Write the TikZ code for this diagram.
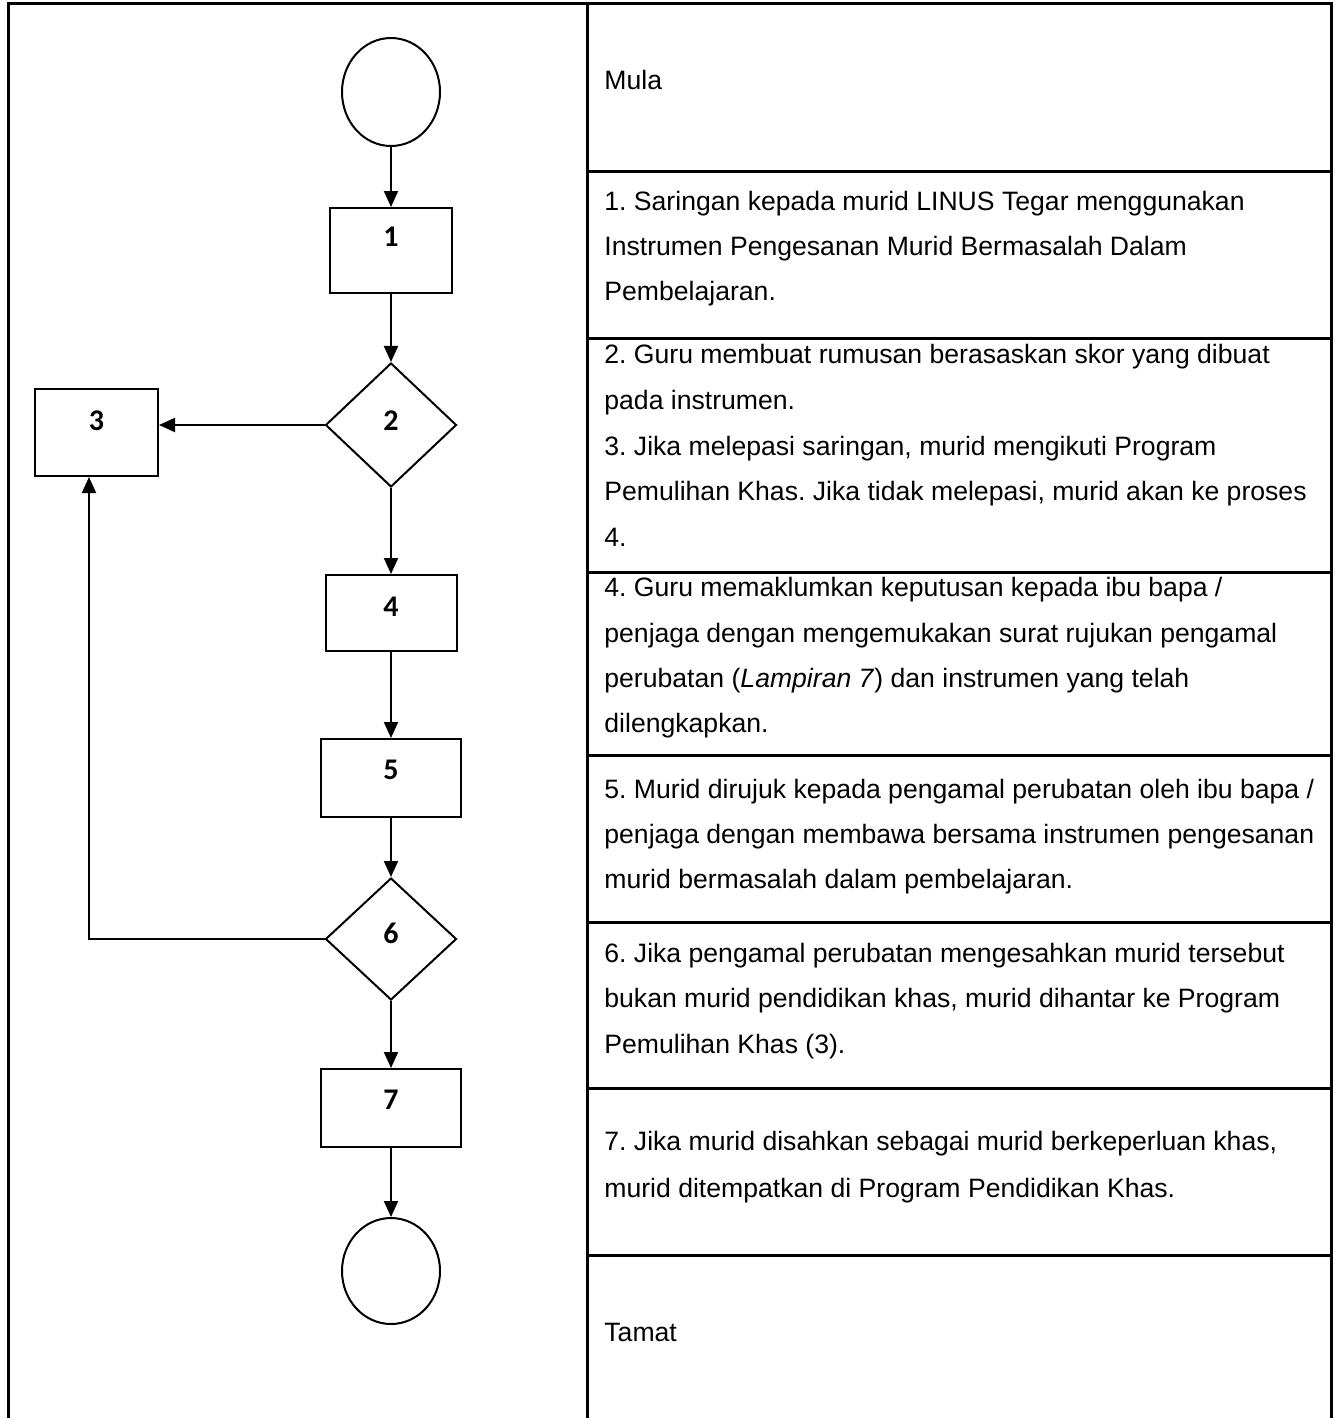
\documentclass[tikz,border=0pt]{standalone}
\usepackage{fontspec}
\setmainfont{Liberation Sans}
\newfontfamily\lblfont{Carlito}
\usetikzlibrary{arrows.meta,shapes.geometric}
\frenchspacing
\begin{document}
\begin{tikzpicture}[x=0.5pt,y=-0.5pt,
  tbl/.style={line width=1.5pt, line cap=rect},
  shp/.style={draw, line width=1pt, inner sep=0pt, font=\lblfont\bfseries\fontsize{15pt}{16pt}\selectfont},
  procbox/.style={shp, rectangle},
  decbox/.style={shp, diamond},
  termnode/.style={shp, ellipse},
  conn/.style={line width=1pt, -{Triangle[length=8pt,width=7pt]}},
  txt/.style={anchor=base west, inner sep=0pt, font=\fontsize{13.3pt}{16pt}\selectfont}]
\useasboundingbox (0,0) rectangle (1334,1418);
% table
\draw[tbl] (8,1418) -- (8,4) -- (1331,4) -- (1331,1418);
\draw[tbl] (587,4) -- (587,1418);
\foreach \yy in {171,338,572,755,922,1088,1255} \draw[tbl] (587,\yy) -- (1331,\yy);
% flowchart
\node[termnode, minimum width=49pt, minimum height=54pt] (s) at (391,92) {};
\node[procbox, minimum width=61pt, text height=19pt, text depth=23.5pt] (b1) at (391,250.5) {1};
\node[decbox, minimum width=65.5pt, minimum height=62pt, text height=10pt, text depth=5pt] (d2) at (391,425) {2};
\node[procbox, minimum width=61.5pt, text height=20.5pt, text depth=23pt] (b3) at (96.5,432.5) {3};
\node[procbox, minimum width=65.5pt, text height=20.5pt, text depth=17.5pt] (b4) at (391,613) {4};
\node[procbox, minimum width=70pt, text height=20pt, text depth=19pt] (b5) at (391,778) {5};
\node[decbox, minimum width=65.5pt, minimum height=61pt, text height=10pt, text depth=6pt] (d6) at (391,939) {6};
\node[procbox, minimum width=70pt, text height=20pt, text depth=19pt] (b7) at (391,1108) {7};
\node[termnode, minimum width=49pt, minimum height=53pt] (e) at (391,1271) {};
\coordinate (fb) at (89,941);
\draw[conn] (s) -- (b1);
\draw[conn] (b1) -- (d2);
\draw[conn] (d2.west) -- (d2.west -| b3.east);
\draw[conn] (d2) -- (b4);
\draw[conn] (b4) -- (b5);
\draw[conn] (b5) -- (d6);
\draw[conn] (d6.west) -- (d6.west -| fb) -- (fb |- b3.south);
\draw[conn] (d6) -- (b7);
\draw[conn] (b7) -- (e);
% texts
\node[txt] (t0) at (604,90) {Mula};
\node[txt] (t1a) at (604,210) {1. Saringan kepada murid LINUS Tegar menggunakan};
\node[txt] (t1b) at (604,255) {Instrumen Pengesanan Murid Bermasalah Dalam};
\node[txt] (t1c) at (604,300) {Pembelajaran.};
\node[txt] (t2a) at (604,363) {2. Guru membuat rumusan berasaskan skor yang dibuat};
\node[txt] (t2b) at (604,409) {pada instrumen.};
\node[txt] (t2c) at (604,455) {3. Jika melepasi saringan, murid mengikuti Program};
\node[txt] (t2d) at (604,500) {Pemulihan Khas. Jika tidak melepasi, murid akan ke proses};
\node[txt] (t2e) at (604,546) {4.};
\node[txt] (t4a) at (604,596) {4. Guru memaklumkan keputusan kepada ibu bapa /};
\node[txt] (t4b) at (604,642) {penjaga dengan mengemukakan surat rujukan pengamal};
\node[txt] (t4c) at (604,687) {perubatan (\textit{Lampiran 7}) dan instrumen yang telah};
\node[txt] (t4d) at (604,732) {dilengkapkan.};
\node[txt] (t5a) at (604,798) {5. Murid dirujuk kepada pengamal perubatan oleh ibu bapa /};
\node[txt] (t5b) at (604,843) {penjaga dengan membawa bersama instrumen pengesanan};
\node[txt] (t5c) at (604,888) {murid bermasalah dalam pembelajaran.};
\node[txt] (t6a) at (604,962) {6. Jika pengamal perubatan mengesahkan murid tersebut};
\node[txt] (t6b) at (604,1007) {bukan murid pendidikan khas, murid dihantar ke Program};
\node[txt] (t6c) at (604,1053) {Pemulihan Khas (3).};
\node[txt] (t7a) at (604,1150) {7. Jika murid disahkan sebagai murid berkeperluan khas,};
\node[txt] (t7b) at (604,1197) {murid ditempatkan di Program Pendidikan Khas.};
\node[txt] (tend) at (604,1341) {Tamat};
\end{tikzpicture}
\end{document}
